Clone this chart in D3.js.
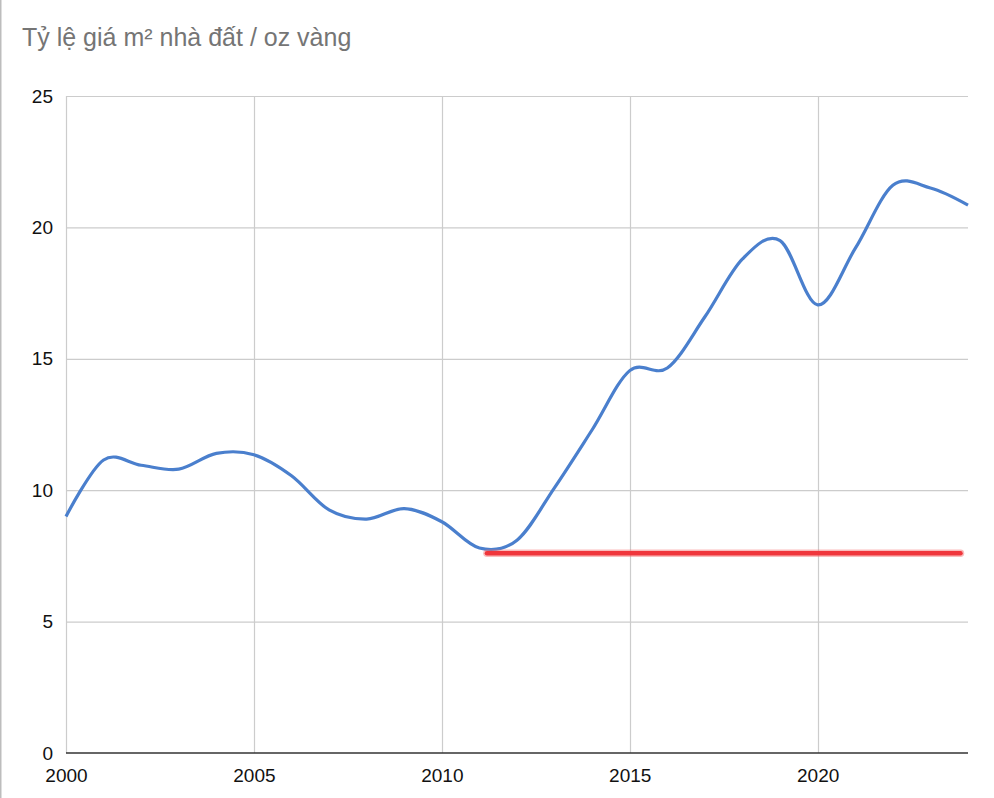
<!DOCTYPE html>
<html>
<head>
<meta charset="utf-8">
<script src="https://cdn.jsdelivr.net/npm/d3@7"></script>
<style>
  html, body { margin: 0; padding: 0; background: #fff; }
  svg { display: block; font-family: "Liberation Sans", Arial, sans-serif; }
</style>
</head>
<body>
<script>
// ---- data ----
const years = [2000, 2001, 2002, 2003, 2004, 2005, 2006, 2007, 2008, 2009, 2010, 2011,
               2012, 2013, 2014, 2015, 2016, 2017, 2018, 2019, 2020, 2021, 2022, 2023, 2024];
const ratio = [9.0, 11.15, 10.95, 10.8, 11.4, 11.35, 10.55, 9.25, 8.9, 9.3, 8.8, 7.8,
               8.1, 10.1, 12.3, 14.55, 14.65, 16.6, 18.8, 19.5, 17.05, 19.2, 21.6, 21.5, 20.85];
const redLineYears = [2011.2, 2023.8];
const redLineValues = [7.6, 7.6];
const xTicks = [2000, 2005, 2010, 2015, 2020];
const yTicks = [0, 5, 10, 15, 20, 25];
const title = "Tỷ lệ giá m² nhà đất / oz vàng";

// ---- layout ----
const W = 994, H = 798;
const m = { left: 66, right: 26, top: 96, bottom: 45 };

const svg = d3.select("body").append("svg").attr("width", W).attr("height", H);

// page border on the left
svg.append("line").attr("x1", 0.5).attr("x2", 0.5).attr("y1", 0).attr("y2", H)
  .attr("stroke", "#bdbdbd").attr("stroke-width", 2);

const x = d3.scaleLinear().domain([2000, 2024]).range([m.left, W - m.right]);
const y = d3.scaleLinear().domain([0, 25]).range([H - m.bottom, m.top]);

// title
svg.append("text").attr("x", 22).attr("y", 46)
  .attr("fill", "#757575").attr("font-size", 25).text(title);

// gridlines
svg.append("g").selectAll("line").data(yTicks.filter(d => d !== 0)).join("line")
  .attr("x1", x(2000)).attr("x2", x(2024))
  .attr("y1", d => y(d) + 0.5).attr("y2", d => y(d) + 0.5)
  .attr("stroke", "#cccccc").attr("stroke-width", 1.2);
svg.append("g").selectAll("line").data(xTicks).join("line")
  .attr("x1", d => Math.round(x(d)) + 0.5).attr("x2", d => Math.round(x(d)) + 0.5)
  .attr("y1", y(25)).attr("y2", y(0))
  .attr("stroke", "#cccccc").attr("stroke-width", 1.2);

// y axis labels
const yAxis = svg.append("g").attr("transform", `translate(${m.left},0)`)
  .call(d3.axisLeft(y).tickValues(yTicks).tickSize(0).tickPadding(13).tickFormat(d3.format("d")));
yAxis.select(".domain").remove();
yAxis.selectAll("text").attr("font-size", 19).attr("fill", "#111")
  .attr("font-family", '"Liberation Sans", Arial, sans-serif');

// x axis
const xAxis = svg.append("g").attr("transform", `translate(0,${y(0)})`)
  .call(d3.axisBottom(x).tickValues(xTicks).tickSize(0).tickPadding(16).tickFormat(d3.format("d")));
xAxis.select(".domain").remove();
xAxis.selectAll("text").attr("font-size", 19).attr("fill", "#111")
  .attr("font-family", '"Liberation Sans", Arial, sans-serif');
svg.append("line").attr("x1", x(2000)).attr("x2", x(2024))
  .attr("y1", y(0)).attr("y2", y(0)).attr("stroke", "#333").attr("stroke-width", 1.6);

// data line
const pts = years.map((yr, i) => [yr, ratio[i]]);
const line = d3.line().x(d => x(d[0])).y(d => y(d[1])).curve(d3.curveCatmullRom.alpha(0));
svg.append("path").datum(pts).attr("d", line)
  .attr("fill", "none").attr("stroke", "#4a7fcd").attr("stroke-width", 3.2)
  .attr("stroke-linejoin", "round");

// red marker line
const redPts = redLineYears.map((yr, i) => [yr, redLineValues[i]]);
const straight = d3.line().x(d => x(d[0])).y(d => y(d[1]));
svg.append("path").datum(redPts).attr("d", straight)
  .attr("fill", "none").attr("stroke", "#f36a6a").attr("stroke-opacity", 0.45)
  .attr("stroke-width", 7.5).attr("stroke-linecap", "round");
svg.append("path").datum(redPts).attr("d", straight)
  .attr("fill", "none").attr("stroke", "#f0363c").attr("stroke-width", 4.5)
  .attr("stroke-linecap", "round");
</script>
</body>
</html>
